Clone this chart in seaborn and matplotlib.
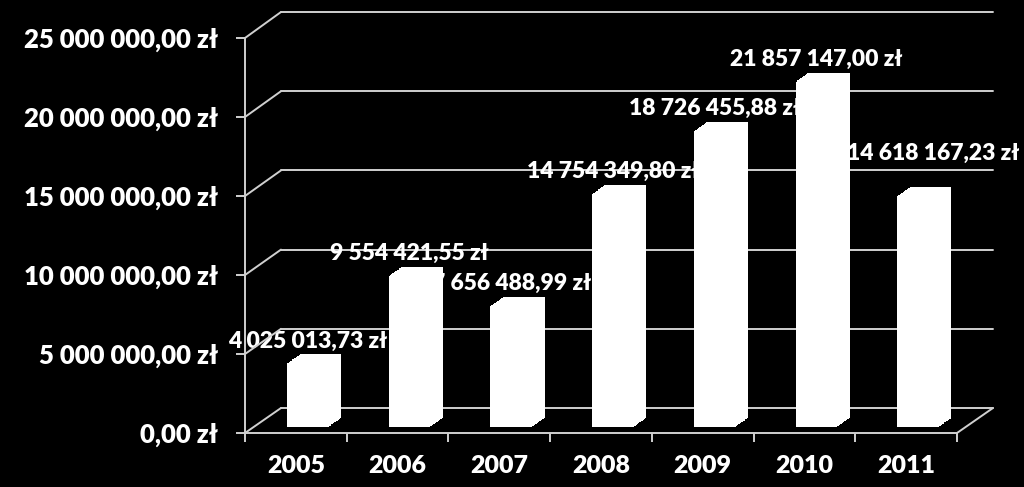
import numpy as np
import matplotlib
matplotlib.use("Agg")
import matplotlib.pyplot as plt
import matplotlib.patheffects as pe
import seaborn as sns

years = ["2005", "2006", "2007", "2008", "2009", "2010", "2011"]
amounts = [4025013.73, 9554421.55, 7656488.99, 14754349.80, 18726455.88, 21857147.00, 14618167.23]
y_ticks = [0, 5000000, 10000000, 15000000, 20000000, 25000000]

# label nudges in points (last one sits higher in the original)
label_offsets = [(0, 16), (0, 16), (0, 16), (0, 16), (0, 16), (0, 16), (11, 31)]

GRID = "#d0d0d0"
W, H = 1024, 487


def zl(v):
    return f"{v:,.2f}".replace(",", " ").replace(".", ",") + " zł"


def box(left, top_y, width, height):
    # pixel box -> figure fraction
    return [left / W, (H - top_y - height) / H, width / W, height / H]


sns.set_style("dark")
plt.rcParams["font.family"] = ["Lato", "DejaVu Sans"]
plt.rcParams["font.weight"] = "heavy"

fig = plt.figure(figsize=(10.24, 4.87), dpi=100, facecolor="black")

# back wall (shifted up-right), bars (mid depth), front axes on top
ax_back = fig.add_axes(box(281, 12, 712, 396), zorder=0)
ax_bar = fig.add_axes(box(257, 32, 712, 395), zorder=1)
ax = fig.add_axes(box(245, 38, 712, 395), zorder=2)

for a in (ax_back, ax_bar, ax):
    a.set_facecolor("none")
    a.set_ylim(0, 25000000)
    a.set_xlim(-0.5, 6.5)
    for s in a.spines.values():
        s.set_visible(False)

# back wall grid
ax_back.set_yticks(y_ticks)
ax_back.set_xticks([])
ax_back.tick_params(left=False, labelleft=False)
ax_back.grid(axis="y", color=GRID, linewidth=1.4)
ax_back.grid(axis="x", visible=False)
for gl in ax_back.get_ygridlines():
    gl.set_clip_on(False)

# bars
sns.barplot(x=years, y=amounts, ax=ax_bar, color="white", saturation=1,
            width=0.41, linewidth=0)
ax_bar.set_xlim(-0.5, 6.5)
ax_bar.set_ylim(0, 25000000)
ax_bar.axis("off")
depth = [pe.SimplePatchShadow(offset=(9.0 * t, 6.5 * t), shadow_rgbFace="white", alpha=1)
         for t in np.linspace(0.08, 1, 14)]
for p in ax_bar.patches:
    p.set_path_effects(depth + [pe.Normal()])

for i, v in enumerate(amounts):
    ax_bar.annotate(zl(v), xy=(i, v), xytext=label_offsets[i], textcoords="offset points",
                    ha="center", va="center", color="white", fontsize=16.5,
                    fontweight="heavy", annotation_clip=False)

# front axes
ax.spines["left"].set_visible(True)
ax.spines["bottom"].set_visible(True)
ax.spines["left"].set_color(GRID)
ax.spines["bottom"].set_color(GRID)
ax.spines["left"].set_linewidth(1.4)
ax.spines["bottom"].set_linewidth(1.4)
ax.set_yticks(y_ticks, labels=[zl(t) for t in y_ticks])
ax.set_xticks(range(len(years)), labels=years)
ax.set_xticks(np.arange(-0.5, len(years)), minor=True)
ax.tick_params(axis="y", colors=GRID, labelcolor="white", length=6.5, width=1.4,
               pad=13, labelsize=18.5, left=True)
ax.tick_params(axis="x", which="major", length=0, pad=16, labelcolor="white", labelsize=18)
ax.tick_params(axis="x", which="minor", length=6.5, width=1.4, color=GRID, bottom=True)
for lab in ax.get_xticklabels() + ax.get_yticklabels():
    lab.set_fontweight("heavy")
ax.grid(False)

# side-wall diagonals from the front axis to the back wall
for t in y_ticks:
    ax.annotate("", xy=(0, t), xycoords=ax.get_yaxis_transform(),
                xytext=(0, t), textcoords=ax_back.get_yaxis_transform(),
                arrowprops=dict(arrowstyle="-", color=GRID, lw=1.4, shrinkA=0, shrinkB=0))
ax.annotate("", xy=(1, 0), xycoords=ax.get_yaxis_transform(),
            xytext=(1, 0), textcoords=ax_back.get_yaxis_transform(),
            arrowprops=dict(arrowstyle="-", color=GRID, lw=1.4, shrinkA=0, shrinkB=0))

fig.savefig("out.png", dpi=100, facecolor="black")
